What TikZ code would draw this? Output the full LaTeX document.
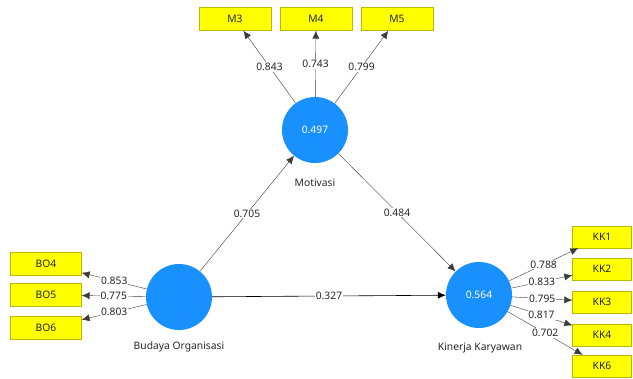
\documentclass[tikz,border=0pt]{standalone}
\usepackage{fontspec}
\setmainfont{Noto Sans}
\usetikzlibrary{arrows.meta,positioning}
\definecolor{plsblue}{RGB}{24,145,255}
\definecolor{plsyellow}{RGB}{255,255,0}
\definecolor{plsedge}{RGB}{185,185,0}
\definecolor{plsline}{RGB}{60,60,60}

\begin{document}
\begin{tikzpicture}[x=1pt, y=-1pt,
  txt/.style={font=\fontsize{10.3}{12}\selectfont, text=black!85},
  latent/.style={circle, fill=plsblue, minimum size=66pt, inner sep=0pt, txt, text=white},
  indicator/.style={rectangle, fill=plsyellow, draw=plsedge, minimum height=23pt, inner sep=0pt, txt},
  loading/.style={plsline, -{Latex[length=8pt,width=7pt]}},
  weight/.style={fill=white, inner sep=1pt, txt}]

\useasboundingbox (0,0) rectangle (633,379);

% === Latent variables ===
\node[latent] (mot) at (315,130) {0.497};
\node[latent] (bud) at (179,297) {};
\node[latent] (kin) at (479,295) {0.564};

\node[txt] (motlabel) at (315,183) {Motivasi};
\node[txt] (budlabel) at (179,347) {Budaya Organisasi};
\node[txt] (kinlabel) at (480,348) {Kinerja Karyawan};

% === Indicators ===
\node[indicator, minimum width=72pt] (m3) at (235,19) {M3};
\node[indicator, minimum width=72pt] (m4) at (316,19) {M4};
\node[indicator, minimum width=72pt] (m5) at (397,19) {M5};

\node[indicator, minimum width=71pt] (bo4) at (46,264) {BO4};
\node[indicator, minimum width=71pt] (bo5) at (46,295) {BO5};
\node[indicator, minimum width=71pt] (bo6) at (46,328) {BO6};

\node[indicator, minimum width=59pt, minimum height=22pt] (kk1) at (602,237) {KK1};
\node[indicator, minimum width=59pt, minimum height=22pt] (kk2) at (602,269) {KK2};
\node[indicator, minimum width=59pt, minimum height=22pt] (kk3) at (602,302) {KK3};
\node[indicator, minimum width=59pt, minimum height=22pt] (kk4) at (602,335) {KK4};
\node[indicator, minimum width=59pt, minimum height=22pt] (kk6) at (602,366) {KK6};

% === Outer loadings ===
\draw[loading] (mot) -- node[weight] {0.843} (m3);
\draw[loading] (mot) -- node[weight] {0.743} (m4);
\draw[loading] (mot) -- node[weight] {0.799} (m5);

\draw[loading] (bud) -- node[weight] {0.853} (bo4);
\draw[loading] (bud) -- node[weight] {0.775} (bo5);
\draw[loading] (bud) -- node[weight] {0.803} (bo6);

\draw[loading] (kin) -- node[weight] {0.788} (kk1);
\draw[loading] (kin) -- node[weight] {0.833} (kk2);
\draw[loading] (kin) -- node[weight] {0.795} (kk3);
\draw[loading] (kin) -- node[weight] {0.817} (kk4);
\draw[loading] (kin) -- node[weight] {0.702} (kk6);

% === Path coefficients ===
\draw[loading] (bud) -- node[weight] {0.705} (mot);
\draw[loading] (mot) -- node[weight] {0.484} (kin);
\draw[loading, black, semithick] (bud) -- node[weight] {0.327} (kin);

\end{tikzpicture}
\end{document}
